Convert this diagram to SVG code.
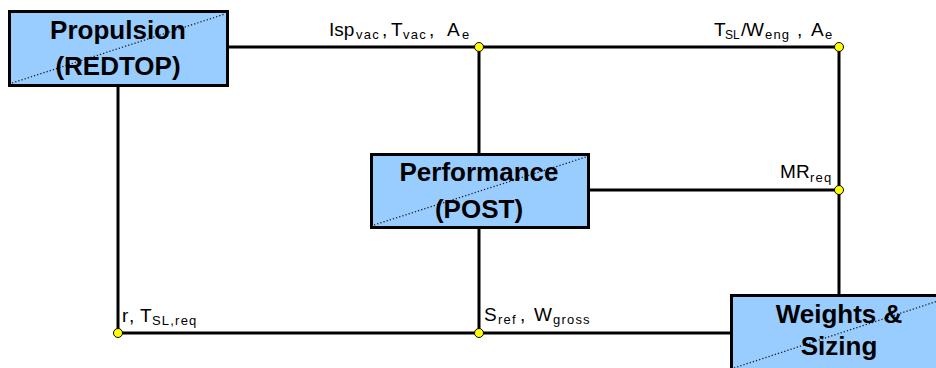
<svg xmlns="http://www.w3.org/2000/svg" width="936" height="368" viewBox="0 0 936 368">
<style>
.box{fill:#99CCFF;stroke:#000;stroke-width:3}
.diag{stroke:#222;stroke-width:1.3;stroke-dasharray:1.3 2;fill:none}
.title{font-family:"Liberation Sans",Arial,sans-serif;font-weight:bold;font-size:26px;fill:#000;text-anchor:middle}
.wire{stroke:#000;stroke-width:3;fill:none}
.dot{fill:#FFFF00;stroke:#000;stroke-width:1}
.lbl{font-family:"Liberation Sans",Arial,sans-serif;font-size:19px;fill:#000}
.sub{font-size:13px;letter-spacing:1.2px}
</style>
<rect width="936" height="368" fill="#fff"/>
<g id="connectors">
<line class="wire" x1="228" y1="47" x2="839" y2="47"/>
<line class="wire" x1="479" y1="47" x2="479" y2="153"/>
<line class="wire" x1="479" y1="228" x2="479" y2="333"/>
<line class="wire" x1="839" y1="47" x2="839" y2="294"/>
<line class="wire" x1="589" y1="190" x2="839" y2="190"/>
<line class="wire" x1="118" y1="86" x2="118" y2="333"/>
<line class="wire" x1="118" y1="333" x2="730" y2="333"/>
<circle class="dot" cx="479" cy="47" r="4.5"/>
<circle class="dot" cx="839" cy="47" r="4.5"/>
<circle class="dot" cx="839" cy="190" r="4.5"/>
<circle class="dot" cx="118" cy="333" r="4.5"/>
<circle class="dot" cx="479" cy="333" r="4.5"/>
<text class="lbl"><tspan x="329" y="36">Isp</tspan><tspan class="sub" x="356" y="39">vac</tspan><tspan x="382" y="36">,</tspan><tspan x="391" y="36">T</tspan><tspan class="sub" x="403" y="39">vac</tspan><tspan x="429" y="36">,</tspan><tspan x="447" y="36">A</tspan><tspan class="sub" x="462" y="39">e</tspan></text>
<text class="lbl"><tspan x="714" y="36">T</tspan><tspan class="sub" style="letter-spacing:0;font-size:12px" x="725" y="39">SL</tspan><tspan x="741" y="36">/</tspan><tspan x="746" y="36">W</tspan><tspan class="sub" x="765" y="39">eng</tspan><tspan x="797" y="36">,</tspan><tspan x="811" y="36">A</tspan><tspan class="sub" x="825" y="39">e</tspan></text>
<text class="lbl"><tspan x="780" y="178">M</tspan><tspan x="796" y="178">R</tspan><tspan class="sub" x="810" y="182">req</tspan></text>
<text class="lbl"><tspan x="122" y="322">r</tspan><tspan x="129" y="322">,</tspan><tspan x="140" y="322">T</tspan><tspan class="sub" x="152" y="325">SL,req</tspan></text>
<text class="lbl"><tspan x="484" y="321">S</tspan><tspan class="sub" x="498" y="324">ref</tspan><tspan x="520" y="321">,</tspan><tspan x="534" y="321">W</tspan><tspan class="sub" x="553" y="324">gross</tspan></text>
</g>
<g id="propulsion">
<rect class="box" x="9.5" y="11.5" width="218" height="74"/>
<line class="diag" x1="12" y1="83" x2="225" y2="14"/>
<text class="title" x="118" y="39">Propulsion</text>
<text class="title" x="118" y="75">(REDTOP)</text>
</g>
<g id="performance">
<rect class="box" x="371.5" y="154.5" width="217" height="73"/>
<line class="diag" x1="374" y1="225" x2="586" y2="157"/>
<text class="title" x="479" y="181">Performance</text>
<text class="title" x="479" y="218">(POST)</text>
</g>
<g id="weights">
<rect class="box" x="731.5" y="295.5" width="218" height="76"/>
<line class="diag" x1="734" y1="368" x2="947" y2="298"/>
<text class="title" x="839" y="323">Weights &amp;</text>
<text class="title" x="839" y="355">Sizing</text>
</g>
</svg>
